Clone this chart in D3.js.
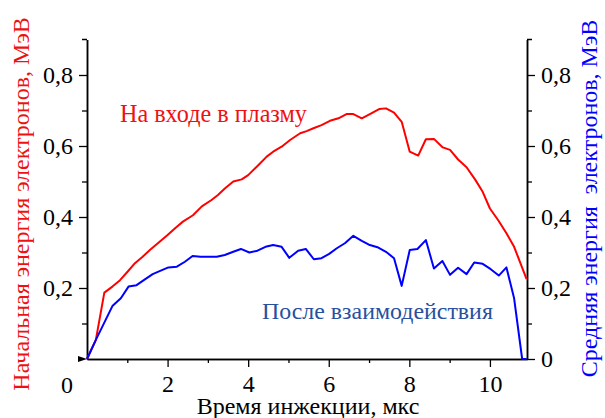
<!DOCTYPE html>
<html><head><meta charset="utf-8">
<script src="https://cdn.jsdelivr.net/npm/d3@7/dist/d3.min.js"></script>
<style>body{margin:0;background:#fff;}</style>
</head>
<body><svg id="c" width="605" height="418"></svg>
<script>
// Data (time in µs, energy in MeV)
const redT = [0,0.22,0.43,0.63,0.82,1.0,1.19,1.38,1.56,1.78,2.0,2.2,2.38,2.63,2.85,3.09,3.25,3.42,3.63,3.84,4.0,4.25,4.46,4.62,4.83,5.04,5.29,5.45,5.62,5.82,6.03,6.24,6.44,6.61,6.82,7.02,7.25,7.42,7.62,7.81,8.01,8.22,8.41,8.61,8.83,9.01,9.21,9.42,9.63,9.82,10.0,10.21,10.41,10.6,10.91];
const redV = [0,0.054,0.187,0.204,0.222,0.245,0.27,0.288,0.307,0.328,0.349,0.37,0.387,0.405,0.43,0.448,0.462,0.48,0.50,0.506,0.518,0.546,0.57,0.584,0.598,0.617,0.636,0.642,0.65,0.659,0.671,0.678,0.69,0.69,0.678,0.69,0.704,0.706,0.694,0.668,0.584,0.573,0.619,0.62,0.596,0.589,0.562,0.54,0.506,0.471,0.424,0.39,0.354,0.316,0.225];
const blueT = [0,0.22,0.63,0.84,1.03,1.23,1.41,1.63,1.83,2.02,2.23,2.43,2.62,2.82,3.02,3.22,3.42,3.63,3.82,4.03,4.23,4.43,4.62,4.83,5.02,5.24,5.43,5.63,5.82,6.01,6.2,6.4,6.61,6.82,7.02,7.23,7.42,7.62,7.81,8.01,8.2,8.41,8.61,8.82,9.01,9.21,9.42,9.61,9.82,10.02,10.22,10.41,10.6,10.8,10.91];
const blueV = [0,0.054,0.149,0.171,0.204,0.208,0.222,0.239,0.249,0.258,0.26,0.274,0.29,0.288,0.288,0.288,0.293,0.302,0.31,0.30,0.305,0.316,0.321,0.316,0.285,0.305,0.31,0.281,0.284,0.296,0.312,0.326,0.347,0.333,0.321,0.314,0.302,0.284,0.206,0.307,0.31,0.335,0.255,0.276,0.237,0.257,0.239,0.272,0.268,0.253,0.235,0.258,0.171,0,0];
const xTicks = [2,4,6,8,10];
const xMinor = [1,3,5,7,9];
const yTicks = [0.2,0.4,0.6,0.8];
const yMinor = [0.1,0.3,0.5,0.7];
const yTicksRight = [0,0.2,0.4,0.6,0.8];

const FF = "Tinos, 'Nimbus Roman', FreeSerif, 'DejaVu Serif', serif";
const svg = d3.select("#c");
const L = 87, R = 527, B = 359, T = 39.5;
const x = d3.scaleLinear().domain([0,10.92]).range([L,R]);
const y = d3.scaleLinear().domain([0,0.9]).range([B,T]);
const fmt = d => String(+d.toFixed(1)).replace(".", ",");
const FS = 24;

function styleAxis(g, mode){
  g.attr("font-family",FF).attr("font-size",FS).attr("text-anchor",null);
  g.select(".domain").attr("stroke","#000").attr("stroke-width",1.5);
  g.selectAll(".tick line").attr("stroke","#000").attr("stroke-width",1.3);
  g.selectAll(".tick text").each(function(){
    const t = d3.select(this).attr("fill","#000").attr("font-family",FF).attr("font-size",FS)
      .attr("font-weight","normal").attr("dy",null).attr("text-anchor",null);
    const w = this.getComputedTextLength();
    if (mode==="left")  t.attr("x",-14-w).attr("y",7.5);
    if (mode==="right") t.attr("x",14).attr("y",7.5);
    if (mode==="bottom") t.attr("x",-w/2).attr("y",33);
  });
}
const gx = svg.append("g").attr("transform",`translate(0,${B})`)
  .call(d3.axisBottom(x).tickValues(xTicks).tickSize(8).tickSizeOuter(0).tickFormat(d=>d));
styleAxis(gx,"bottom");
const gxm = svg.append("g").attr("transform",`translate(0,${B})`)
  .call(d3.axisBottom(x).tickValues(xMinor).tickSize(4).tickSizeOuter(0).tickFormat(""));
styleAxis(gxm,"none");
const gl = svg.append("g").attr("transform",`translate(${L},0)`)
  .call(d3.axisLeft(y).tickValues(yTicks).tickSize(8).tickSizeOuter(0).tickFormat(fmt));
styleAxis(gl,"left");
const glm = svg.append("g").attr("transform",`translate(${L},0)`)
  .call(d3.axisLeft(y).tickValues(yMinor).tickSize(5).tickSizeOuter(0).tickFormat(""));
styleAxis(glm,"none");
const gr = svg.append("g").attr("transform",`translate(${R},0)`)
  .call(d3.axisRight(y).tickValues(yTicksRight).tickSize(8).tickSizeOuter(0).tickFormat(fmt));
styleAxis(gr,"right");
const grm = svg.append("g").attr("transform",`translate(${R},0)`)
  .call(d3.axisRight(y).tickValues(yMinor).tickSize(5).tickSizeOuter(0).tickFormat(""));
styleAxis(grm,"none");
svg.append("line").attr("x1",L-5).attr("x2",L).attr("y1",T).attr("y2",T).attr("stroke","#000").attr("stroke-width",1.5);
svg.append("line").attr("x1",R).attr("x2",R+5).attr("y1",T).attr("y2",T).attr("stroke","#000").attr("stroke-width",1.5);

function txt(sel){ return (sel||svg).append("text").attr("font-family",FF).attr("font-weight","normal"); }
function fit(t, target, base){
  const w = t.node().getComputedTextLength();
  if (w > 0) t.attr("font-size", (base*target/w).toFixed(2));
  return t;
}
function centred(t){ const w = t.node().getComputedTextLength(); t.attr("x", -w/2); return t; }

const z = txt().attr("font-size",FS).attr("fill","#000").attr("y",393).text("0");
z.attr("x", 67 - z.node().getComputedTextLength()/2);
svg.append("path").attr("d",`M${L-9},${B-3}L${L},${B}L${L-9},${B+3}Z`).attr("fill","#000");

const line = d3.line().x(d=>x(d[0])).y(d=>y(d[1]));
svg.append("path").datum(redT.map((t,i)=>[t,redV[i]])).attr("d",line)
  .attr("fill","none").attr("stroke","#ff0000").attr("stroke-width",2).attr("stroke-linejoin","round");
svg.append("path").datum(blueT.map((t,i)=>[t,blueV[i]])).attr("d",line)
  .attr("fill","none").attr("stroke","#0000ff").attr("stroke-width",2).attr("stroke-linejoin","round");

fit(txt().attr("x",120).attr("y",122).attr("font-size",24).attr("fill","#ee1111").text("На входе в плазму"),187,24);
fit(txt().attr("x",262).attr("y",319).attr("font-size",24).attr("fill","#2850a0").text("После взаимодействия"),231,24);

const xt = txt().attr("y",414).attr("font-size",24).attr("fill","#000").text("Время инжекции, мкс");
xt.attr("x", 308 - xt.node().getComputedTextLength()/2);
const lt = svg.append("g").attr("transform","translate(29,204) rotate(-90)");
centred(txt(lt).attr("font-size",24).attr("fill","#ee1111").text("Начальная энергия электронов, МэВ"));
const rt = svg.append("g").attr("transform","translate(597,198.5) rotate(-90)");
centred(txt(rt).attr("font-size",24).style("white-space","pre").attr("fill","#0000ff").text("Средняя энергия  электронов, МэВ"));
</script></body></html>
